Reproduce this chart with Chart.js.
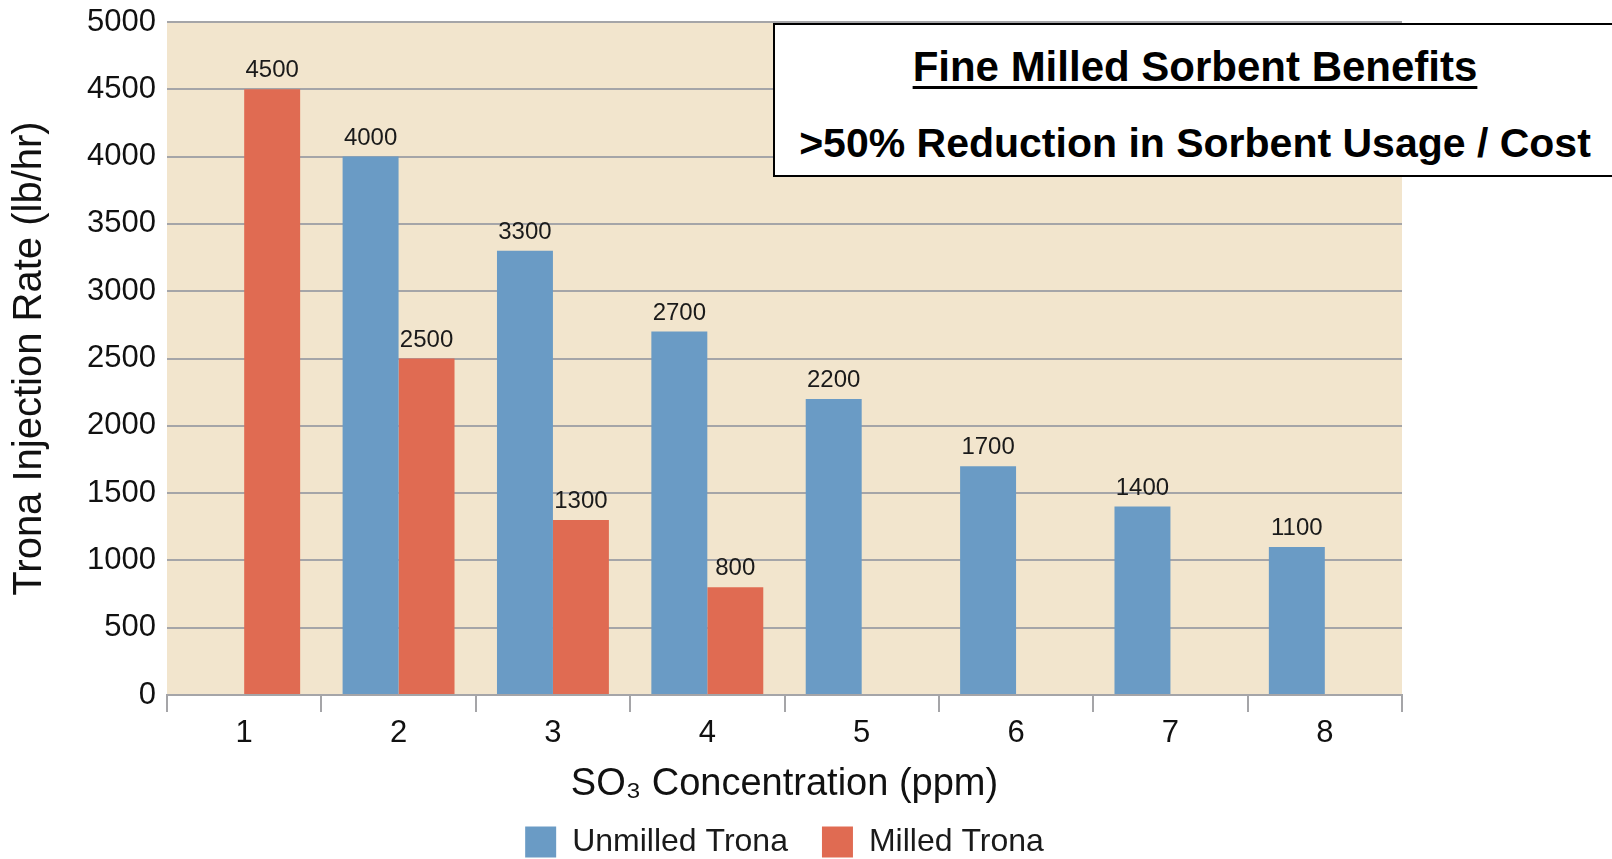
<!DOCTYPE html>
<html>
<head>
<meta charset="utf-8">
<script src="https://cdn.jsdelivr.net/npm/chart.js@4.4.1/dist/chart.umd.min.js"></script>
<style>
  html, body { margin: 0; padding: 0; background: #ffffff; }
  #wrap { position: relative; width: 1612px; height: 859px; overflow: hidden; }
  #chart { position: absolute; left: 0; top: 0; }
  #note {
    position: absolute; left: 773px; top: 23px; width: 850px; height: 154px;
    box-sizing: border-box; border: 2px solid #000; background: #fff;
    font-family: "Liberation Sans", Arial, sans-serif; font-weight: bold; color: #000;
  }
  #note .l { position: absolute; left: 0; width: 840px; text-align: center; white-space: nowrap; }
  #l1 { top: 18px; font-size: 42px; line-height: 48px; }
  #l1 span { text-decoration: underline; text-decoration-thickness: 3px; text-underline-offset: 5px; }
  #l2 { top: 94px; font-size: 41px; line-height: 48px; }
</style>
</head>
<body>
<div id="wrap">
  <canvas id="chart" width="1612" height="859"></canvas>
  <div id="note">
    <div class="l" id="l1"><span>Fine Milled Sorbent Benefits</span></div>
    <div class="l" id="l2">&gt;50% Reduction in Sorbent Usage / Cost</div>
  </div>
</div>
<script>
// ---- data ----
const categories = ['1', '2', '3', '4', '5', '6', '7', '8'];
const seriesNames = ['Unmilled Trona', 'Milled Trona'];
const unmilledTrona = [null, 4000, 3300, 2700, 2200, 1700, 1400, 1100];
const milledTrona = [4500, 2500, 1300, 800, null, null, null, null];
const yMin = 0;
const yMax = 5000;
const yStep = 500;
const xTitle = 'SO\u2083 Concentration (ppm)';
const yTitle = 'Trona Injection Rate (lb/hr)';

// ---- styles ----
const BLUE = '#6a9bc5';
const RED = '#e06b52';
const BEIGE = '#f2e5cd';
const GRID = '#a5a5a8';
const FONT = '"Liberation Sans", Arial, Helvetica, sans-serif';

const plotBg = {
  id: 'plotBg',
  beforeDraw(chart) {
    const a = chart.chartArea, ctx = chart.ctx;
    ctx.save();
    ctx.fillStyle = BEIGE;
    ctx.fillRect(a.left, a.top, a.right - a.left, a.bottom - a.top);
    ctx.restore();
  }
};

const valueLabels = {
  id: 'valueLabels',
  afterDatasetsDraw(chart) {
    const ctx = chart.ctx;
    ctx.save();
    ctx.font = '24px ' + FONT;
    ctx.fillStyle = '#1a1a1a';
    ctx.textAlign = 'center';
    ctx.textBaseline = 'alphabetic';
    chart.data.datasets.forEach((ds, i) => {
      const meta = chart.getDatasetMeta(i);
      meta.data.forEach((el, j) => {
        const v = ds.data[j];
        if (v === null || v === undefined) return;
        ctx.fillText(String(v), el.x, el.y - 12);
      });
    });
    ctx.restore();
  }
};

new Chart(document.getElementById('chart'), {
  type: 'bar',
  data: {
    labels: categories,
    datasets: [
      { label: seriesNames[0], data: unmilledTrona, backgroundColor: BLUE, borderWidth: 0 },
      { label: seriesNames[1], data: milledTrona, backgroundColor: RED, borderWidth: 0 }
    ]
  },
  options: {
    responsive: false,
    animation: false,
    layout: { padding: { left: 0, right: 210, top: 22, bottom: -9 } },
    datasets: { bar: { categoryPercentage: 0.725, barPercentage: 1.0 } },
    plugins: {
      legend: {
        display: true,
        position: 'bottom',
        fullSize: false,
        labels: {
          font: { family: FONT, size: 32 },
          color: '#1a1a1a',
          boxWidth: 31,
          boxHeight: 31,
          padding: 34
        }
      },
      tooltip: { enabled: false }
    },
    scales: {
      x: {
        afterFit(scale) { scale.height = 97; },
        grid: {
          display: true, drawOnChartArea: false, offset: true,
          tickLength: 17, color: GRID, lineWidth: 2
        },
        border: { display: true, color: GRID, width: 2 },
        ticks: { font: { family: FONT, size: 31 }, color: '#111', padding: 3 },
        title: {
          display: true, text: xTitle, color: '#111',
          font: { family: FONT, size: 38 }, padding: { top: 0, bottom: -15 }
        }
      },
      y: {
        min: yMin, max: yMax,
        afterFit(scale) { scale.width = 167; scale.paddingTop = 0; scale.paddingBottom = 0; },
        grid: { display: true, drawTicks: false, color: GRID, lineWidth: 2 },
        border: { display: false },
        ticks: {
          stepSize: yStep, font: { family: FONT, size: 31 }, color: '#111', padding: 11,
          callback: (v) => String(v)
        },
        title: {
          display: true, text: yTitle, color: '#111',
          font: { family: FONT, size: 40 }, padding: { top: 6, bottom: 4 }
        }
      }
    }
  },
  plugins: [plotBg, valueLabels]
});
</script>
</body>
</html>
